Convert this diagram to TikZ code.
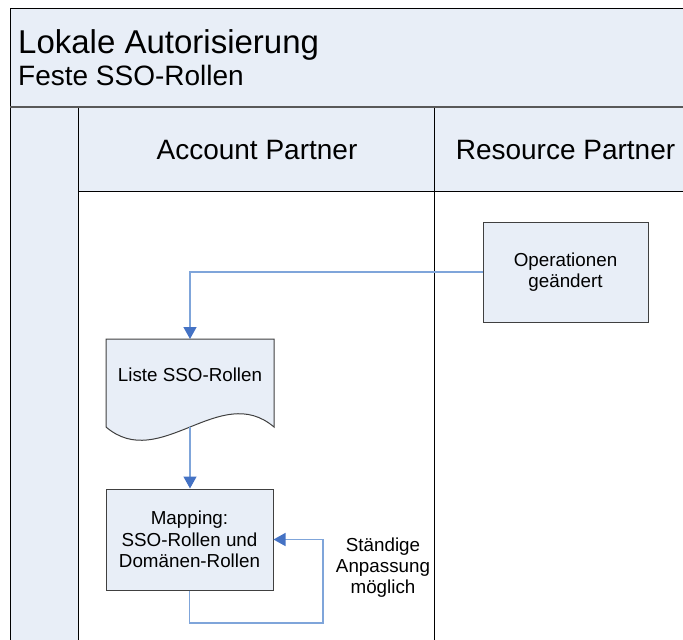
\documentclass[tikz,border=0pt]{standalone}
\usepackage{fontspec}
\setmainfont{Liberation Sans}
\usetikzlibrary{arrows.meta}
\definecolor{bandfill}{HTML}{E8EEF7}
\definecolor{flowline}{HTML}{7FA5DA}
\definecolor{flowhead}{HTML}{4472C4}
\definecolor{boxline}{HTML}{404040}
\tikzset{
  titletext/.style={anchor=base west,inner sep=0,font=\fontsize{33}{38}\selectfont},
  subtext/.style={anchor=base west,inner sep=0,font=\fontsize{28}{32}\selectfont},
  headtext/.style={inner sep=0,font=\fontsize{28}{32}\selectfont},
  procbox/.style={draw=boxline,fill=bandfill,line width=1pt,inner sep=0,align=center,
    font=\fontsize{18.8}{21.5}\selectfont},
  plaintext/.style={inner sep=0,align=center,font=\fontsize{18.8}{21}\selectfont},
  flow/.style={draw=flowline,line width=1.4pt,-{Triangle[width=13pt,length=12pt,color=flowhead]}},
  frameline/.style={draw=black,line width=1pt},
}
\begin{document}
\begin{tikzpicture}[x=1pt,y=-1pt]
\useasboundingbox (0,0) rectangle (683,640);
\begin{scope}
\clip (0,0) rectangle (683,640);
% fills
\fill[bandfill] (10,8) rectangle (690,106);
\fill[bandfill] (10,108) rectangle (78,650);
\fill[bandfill] (78,108) rectangle (690,191);
% frame lines
\draw[frameline] (10,650) -- (10,8) -- (690,8);
\draw[draw=gray!70!black,line width=2.4pt] (10,107) -- (690,107);
\draw[frameline] (78,108) -- (78,650);
\draw[frameline] (434,108) -- (434,650);
\draw[frameline] (78,191) -- (690,191);
\end{scope}
% titles
\node[titletext] (title) at (18,53) {Lokale Autorisierung};
\node[subtext] (subtitle) at (18,85) {Feste SSO-Rollen};
\node[headtext] (hacc) at (257,150) {Account Partner};
\node[headtext] (hres) at (565.5,150) {Resource Partner};
% process boxes
\node[procbox,minimum width=165,minimum height=100] (oper) at (565.5,272) {Operationen\\geändert};
\node[procbox,minimum width=167,minimum height=101] (map) at (189.5,539.5) {Mapping:\\SSO-Rollen und\\Domänen-Rollen};
% document shape
\draw[draw=boxline,fill=bandfill,line width=1pt] (106,339) -- (274,339) -- (274,427)
  .. controls (220,381) and (160,473) .. (106,427) -- cycle;
\node[plaintext] (liste) at (190,375) {Liste SSO-Rollen};
\coordinate (listetop) at (190,339);
\coordinate (listebot) at (190,427);
\coordinate (loopB) at (323,623);
% connectors
\draw[flow] (oper.west) -| (listetop);
\draw[flow] (listebot) -- (map.north -| listebot);
\draw[flow] (map.south) |- (loopB) |- (map.east);
\node[plaintext] (anp) at (383,568) {Ständige\\Anpassung\\möglich};
\end{tikzpicture}
\end{document}
